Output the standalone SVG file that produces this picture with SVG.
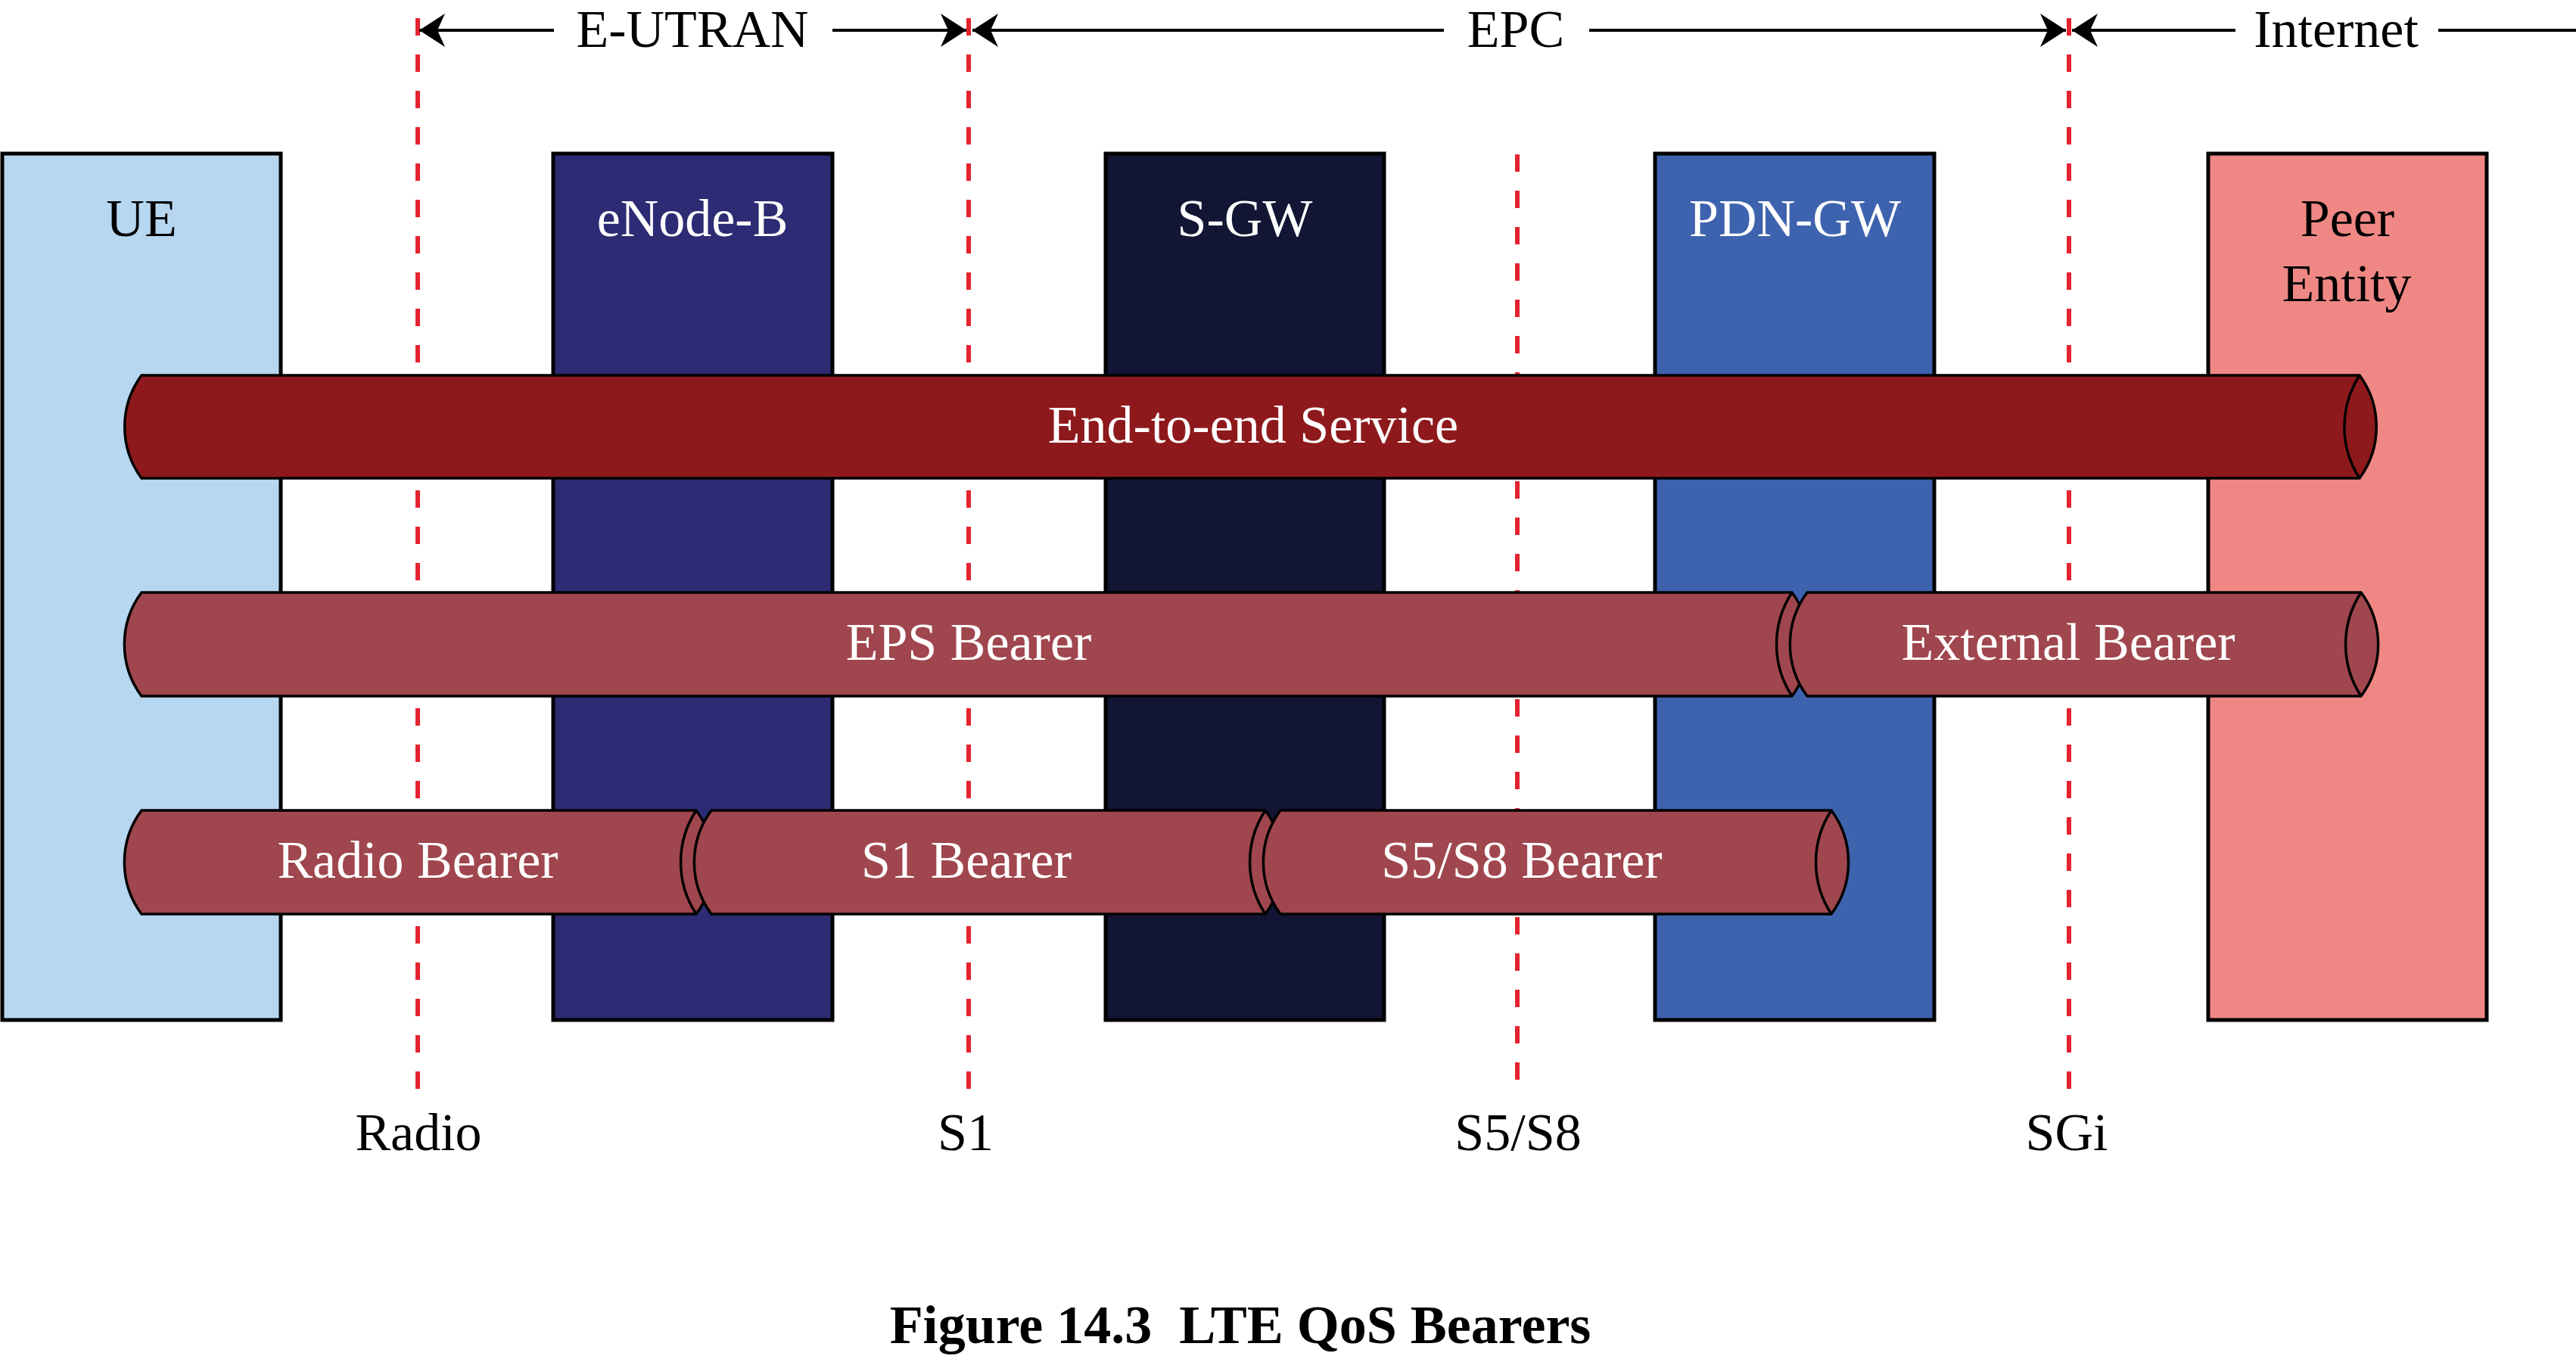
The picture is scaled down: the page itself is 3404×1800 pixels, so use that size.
<svg xmlns="http://www.w3.org/2000/svg" width="3404" height="1800" viewBox="0 0 3404 1800">
<defs>
<style>
.t{font-family:"Liberation Serif","Times New Roman",serif;font-size:70px;text-anchor:middle}
.w{fill:#ffffff}
.k{fill:#000000}
.box{stroke:#000;stroke-width:5}
.dash{stroke:#E52330;stroke-width:6;stroke-dasharray:23 25;fill:none}
.pipe{stroke:#000;stroke-width:3.5;stroke-linejoin:miter}
.p1{fill:#8E191C}
.p2{fill:#A0464E}
.face{fill:none;stroke:#000;stroke-width:3.5}
.arr{stroke:#000;stroke-width:4;fill:none}
.cap{font-family:"Liberation Serif","Times New Roman",serif;font-size:72px;font-weight:bold;text-anchor:middle;white-space:pre}
</style>
<marker id="ah" markerUnits="userSpaceOnUse" markerWidth="40" markerHeight="50" viewBox="-36 -25 40 50" refX="0" refY="0" orient="auto">
<path d="M0,0 L-34,-22 L-24,0 L-34,22 Z" fill="#000"/>
</marker>
</defs>
<rect width="3404" height="1800" fill="#ffffff"/>

<g id="nodes">
<g id="ue"><rect class="box" x="3" y="203" width="368" height="1145" fill="#B7D6F0"/><text class="t k" x="187" y="312">UE</text></g>
<g id="enodeb"><rect class="box" x="731" y="203" width="369" height="1145" fill="#2C2B73"/><text class="t w" x="915" y="312">eNode-B</text></g>
<g id="sgw"><rect class="box" x="1461" y="203" width="368" height="1145" fill="#121533"/><text class="t w" x="1645" y="312">S-GW</text></g>
<g id="pdngw"><rect class="box" x="2187" y="203" width="369" height="1145" fill="#3E63AE"/><text class="t w" x="2372" y="312">PDN-GW</text></g>
<g id="peer"><rect class="box" x="2918" y="203" width="368" height="1145" fill="#EF8884"/><text class="t k" x="3102" y="312">Peer</text><text class="t k" x="3101" y="398">Entity</text></g>
</g>

<g id="interfaces">
<line class="dash" x1="552" y1="24" x2="552" y2="1439"/>
<line class="dash" x1="1280" y1="24" x2="1280" y2="1439"/>
<line class="dash" x1="2005" y1="204" x2="2005" y2="1428"/>
<line class="dash" x1="2734" y1="24" x2="2734" y2="1439"/>
<text class="t k" x="553" y="1520">Radio</text>
<text class="t k" x="1276" y="1520">S1</text>
<text class="t k" x="2006" y="1520">S5/S8</text>
<text class="t k" x="2731" y="1520">SGi</text>
</g>

<g id="connectors">
<line class="arr" x1="732" y1="40" x2="554" y2="40" marker-end="url(#ah)"/>
<line class="arr" x1="1100" y1="40" x2="1277" y2="40" marker-end="url(#ah)"/>
<line class="arr" x1="1908" y1="40" x2="1285" y2="40" marker-end="url(#ah)"/>
<line class="arr" x1="2100" y1="40" x2="2730" y2="40" marker-end="url(#ah)"/>
<line class="arr" x1="2954" y1="40" x2="2738" y2="40" marker-end="url(#ah)"/>
<line class="arr" x1="3222" y1="40" x2="3404" y2="40"/>
<text class="t k" x="915" y="62">E-UTRAN</text>
<text class="t k" x="2003" y="62">EPC</text>
<text class="t k" x="3087" y="62">Internet</text>
</g>

<g id="end-to-end-service">
<path class="pipe p1" d="M187,496 H3118 A115,115 0 0 1 3118,632 H187 A115,115 0 0 1 187,496 Z"/>
<path class="face" d="M3118,496 A125,125 0 0 0 3118,632"/>
<text class="t w" x="1656" y="585">End-to-end Service</text>
</g>

<g id="eps-bearer">
<path class="pipe p2" d="M187,783 H2368 A115,115 0 0 1 2368,920 H187 A115,115 0 0 1 187,783 Z"/>
<path class="face" d="M2368,783 A125,125 0 0 0 2368,920"/>
<text class="t w" x="1280" y="872">EPS Bearer</text>
</g>
<g id="external-bearer">
<path class="pipe p2" d="M2388,783 H3120 A115,115 0 0 1 3120,920 H2388 A115,115 0 0 1 2388,783 Z"/>
<path class="face" d="M3120,783 A125,125 0 0 0 3120,920"/>
<text class="t w" x="2733" y="872">External Bearer</text>
</g>

<g id="radio-bearer">
<path class="pipe p2" d="M187,1071 H920 A115,115 0 0 1 920,1208 H187 A115,115 0 0 1 187,1071 Z"/>
<path class="face" d="M920,1071 A125,125 0 0 0 920,1208"/>
<text class="t w" x="552" y="1160">Radio Bearer</text>
</g>
<g id="s1-bearer">
<path class="pipe p2" d="M940,1071 H1672 A115,115 0 0 1 1672,1208 H940 A115,115 0 0 1 940,1071 Z"/>
<path class="face" d="M1672,1071 A125,125 0 0 0 1672,1208"/>
<text class="t w" x="1277" y="1160">S1 Bearer</text>
</g>
<g id="s5s8-bearer">
<path class="pipe p2" d="M1692,1071 H2420 A115,115 0 0 1 2420,1208 H1692 A115,115 0 0 1 1692,1071 Z"/>
<path class="face" d="M2420,1071 A125,125 0 0 0 2420,1208"/>
<text class="t w" x="2011" y="1160">S5/S8 Bearer</text>
</g>

<text class="cap" x="1639" y="1775" xml:space="preserve">Figure 14.3  LTE QoS Bearers</text>
</svg>
